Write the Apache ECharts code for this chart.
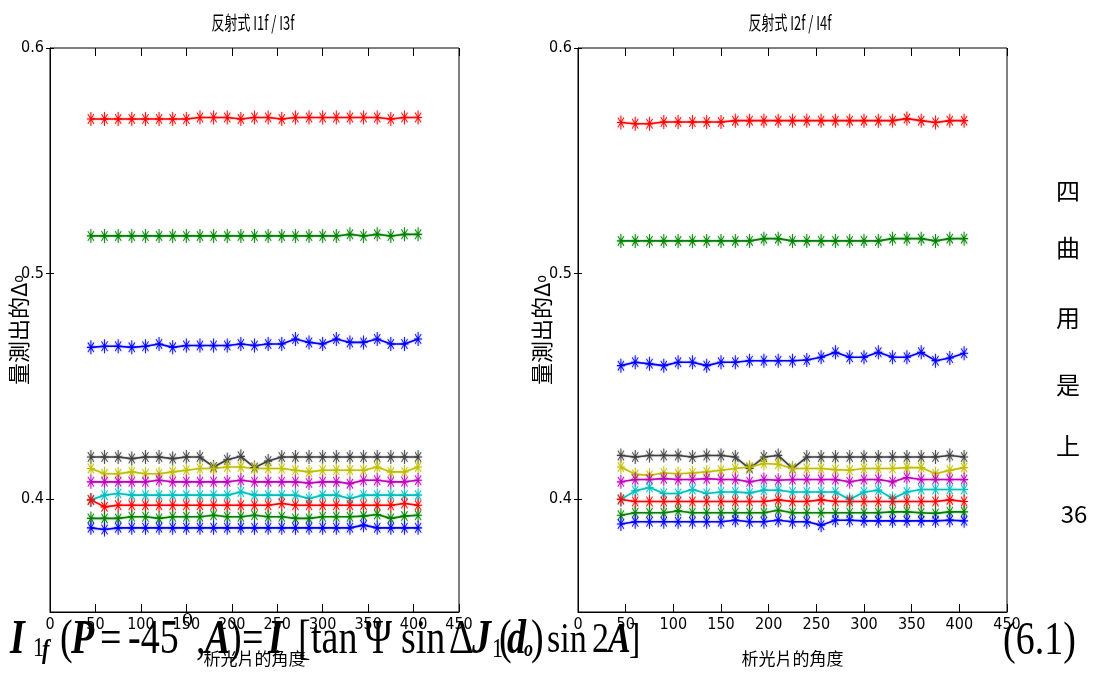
<!DOCTYPE html>
<html>
<head>
<meta charset="utf-8">
<script src="https://cdn.jsdelivr.net/npm/echarts@6/dist/echarts.min.js"></script>
<style>
html,body{margin:0;padding:0;background:#fff;}
#chart{width:1094px;height:673px;}
</style>
</head>
<body>
<div id="chart"></div>
<script>
// ---- data ----
const angles = [45,60,75,90,105,120,135,150,165,180,195,210,225,240,255,270,285,300,315,330,345,360,375,390,405];
const yTickValues = [0.4, 0.5, 0.6];
const leftTitle = '反射式 I1f / I3f';
const rightTitle = '反射式 I2f / I4f';
const xName = '析光片的角度';

// left panel (I1f / I3f)
const leftRedTop   = [0.5685,0.5685,0.5685,0.5685,0.5685,0.5685,0.5685,0.5685,0.5692,0.5692,0.5692,0.5685,0.5692,0.5692,0.5685,0.5692,0.5692,0.5692,0.5692,0.5692,0.5692,0.5692,0.5685,0.5692,0.5692];
const leftGreenTop = [0.5167,0.5167,0.5167,0.5167,0.5167,0.5167,0.5167,0.5167,0.5167,0.5167,0.5167,0.5167,0.5167,0.5167,0.5167,0.5167,0.5167,0.5167,0.5167,0.5174,0.5167,0.5174,0.5167,0.5174,0.5174];
const leftBlueTop  = [0.4673,0.4678,0.4678,0.4673,0.4678,0.4688,0.4673,0.4681,0.4681,0.4681,0.4681,0.4688,0.4681,0.4688,0.4688,0.4710,0.4695,0.4688,0.4710,0.4695,0.4695,0.4710,0.4688,0.4688,0.4710];
const leftGray     = [0.4187,0.4187,0.4187,0.4180,0.4187,0.4187,0.4180,0.4187,0.4187,0.4143,0.4175,0.4190,0.4140,0.4169,0.4187,0.4187,0.4187,0.4187,0.4187,0.4187,0.4187,0.4187,0.4187,0.4187,0.4187];
const leftYellow   = [0.4136,0.4113,0.4113,0.4121,0.4113,0.4113,0.4121,0.4128,0.4136,0.4136,0.4143,0.4143,0.4136,0.4136,0.4136,0.4128,0.4121,0.4128,0.4128,0.4128,0.4128,0.4143,0.4121,0.4121,0.4143];
const leftMagenta  = [0.4077,0.4077,0.4077,0.4077,0.4077,0.4084,0.4077,0.4077,0.4077,0.4077,0.4077,0.4084,0.4077,0.4077,0.4077,0.4077,0.4072,0.4077,0.4077,0.4069,0.4084,0.4084,0.4077,0.4077,0.4084];
const leftCyan     = [0.3997,0.4018,0.4025,0.4018,0.4018,0.4018,0.4018,0.4018,0.4018,0.4018,0.4018,0.4032,0.4018,0.4018,0.4018,0.4018,0.4003,0.4018,0.4018,0.4003,0.4018,0.4018,0.4018,0.4018,0.4018];
const leftRedLow   = [0.3997,0.3966,0.3973,0.3973,0.3973,0.3973,0.3973,0.3973,0.3973,0.3973,0.3973,0.3973,0.3973,0.3973,0.3981,0.3973,0.3973,0.3973,0.3973,0.3973,0.3973,0.3973,0.3973,0.3981,0.3973];
const leftGreenLow = [0.3915,0.3915,0.3915,0.3922,0.3922,0.3915,0.3922,0.3922,0.3922,0.3929,0.3922,0.3922,0.3929,0.3922,0.3922,0.3915,0.3915,0.3922,0.3922,0.3922,0.3925,0.3932,0.3915,0.3925,0.3929];
const leftBlueLow  = [0.3873,0.3866,0.3873,0.3873,0.3873,0.3873,0.3873,0.3873,0.3873,0.3873,0.3873,0.3873,0.3873,0.3873,0.3873,0.3873,0.3873,0.3873,0.3873,0.3873,0.3885,0.3873,0.3873,0.3873,0.3873];

// right panel (I2f / I4f)
const rightRedTop   = [0.5670,0.5664,0.5664,0.5672,0.5672,0.5672,0.5672,0.5672,0.5678,0.5678,0.5678,0.5678,0.5678,0.5678,0.5678,0.5678,0.5678,0.5678,0.5678,0.5678,0.5687,0.5678,0.5670,0.5678,0.5678];
const rightGreenTop = [0.5145,0.5145,0.5145,0.5145,0.5145,0.5145,0.5145,0.5145,0.5145,0.5145,0.5155,0.5155,0.5145,0.5145,0.5145,0.5145,0.5145,0.5145,0.5145,0.5155,0.5155,0.5155,0.5145,0.5155,0.5155];
const rightBlueTop  = [0.4592,0.4607,0.4600,0.4592,0.4607,0.4607,0.4592,0.4607,0.4607,0.4614,0.4614,0.4614,0.4614,0.4617,0.4629,0.4651,0.4629,0.4629,0.4651,0.4629,0.4629,0.4651,0.4614,0.4626,0.4647];
const rightGray     = [0.4194,0.4187,0.4194,0.4194,0.4194,0.4187,0.4194,0.4194,0.4187,0.4136,0.4187,0.4194,0.4136,0.4187,0.4187,0.4187,0.4187,0.4187,0.4187,0.4187,0.4187,0.4187,0.4187,0.4194,0.4187];
const rightYellow   = [0.4143,0.4110,0.4106,0.4116,0.4113,0.4116,0.4121,0.4128,0.4136,0.4143,0.4158,0.4155,0.4136,0.4136,0.4136,0.4131,0.4128,0.4136,0.4136,0.4136,0.4140,0.4140,0.4113,0.4128,0.4140];
const rightMagenta  = [0.4077,0.4087,0.4087,0.4091,0.4087,0.4087,0.4091,0.4087,0.4087,0.4077,0.4087,0.4084,0.4087,0.4087,0.4087,0.4087,0.4077,0.4087,0.4087,0.4077,0.4096,0.4087,0.4087,0.4087,0.4087];
const rightCyan     = [0.3999,0.4037,0.4052,0.4025,0.4025,0.4043,0.4025,0.4032,0.4032,0.4028,0.4040,0.4040,0.4032,0.4032,0.4032,0.4032,0.3999,0.4032,0.4040,0.4003,0.4032,0.4043,0.4043,0.4043,0.4043];
const rightRedLow   = [0.3999,0.3990,0.3990,0.3990,0.3990,0.3990,0.3990,0.3990,0.3990,0.3990,0.3990,0.3997,0.3990,0.3990,0.3997,0.3990,0.3990,0.3990,0.3990,0.3990,0.3990,0.3990,0.3990,0.3997,0.3990];
const rightGreenLow = [0.3929,0.3940,0.3940,0.3940,0.3948,0.3940,0.3940,0.3940,0.3940,0.3940,0.3940,0.3951,0.3940,0.3940,0.3940,0.3940,0.3940,0.3940,0.3940,0.3944,0.3944,0.3940,0.3937,0.3944,0.3944];
const rightBlueLow  = [0.3890,0.3900,0.3900,0.3900,0.3900,0.3900,0.3900,0.3900,0.3907,0.3900,0.3900,0.3907,0.3900,0.3900,0.3885,0.3907,0.3907,0.3904,0.3904,0.3904,0.3904,0.3904,0.3904,0.3907,0.3904];

const leftSeries  = [leftRedTop, leftGreenTop, leftBlueTop, leftGray, leftYellow, leftMagenta, leftCyan, leftRedLow, leftGreenLow, leftBlueLow];
const rightSeries = [rightRedTop, rightGreenTop, rightBlueTop, rightGray, rightYellow, rightMagenta, rightCyan, rightRedLow, rightGreenLow, rightBlueLow];
const seriesColors = ['#ff0000','#008000','#0000ff','#404040','#bfbf00','#bf00bf','#00bfbf','#ff0000','#008000','#0000ff'];
const haloColors   = ['rgba(255,0,0,0.45)','rgba(0,128,0,0.45)','rgba(0,0,255,0.45)','rgba(64,64,64,0.45)','rgba(191,191,0,0.45)','rgba(191,0,191,0.45)','rgba(0,191,191,0.45)','rgba(255,0,0,0.45)','rgba(0,128,0,0.45)','rgba(0,0,255,0.45)'];

// ---- chart ----
const ASTERISK = 'path://M9 0h2v20h-2zM1 9.2h18v1.6h-18zM2.5 3.6L3.6 2.5L17.5 16.4L16.4 17.5zM16.4 2.5L17.5 3.6L3.6 17.5L2.5 16.4z';
const tickFont = '"Liberation Sans Narrow","DejaVu Sans Condensed","Liberation Sans",sans-serif';
const cjkFont = '"Noto Sans CJK TC","Noto Sans CJK SC",sans-serif';
const serif = '"Liberation Serif","Times New Roman",serif';

const chart = echarts.init(document.getElementById('chart'), null, {renderer:'canvas'});

function makeSeries(values, idx, axisIdx) {
  return {
    type: 'line',
    xAxisIndex: axisIdx,
    yAxisIndex: axisIdx,
    data: angles.map((a, i) => [a, values[i]]),
    symbol: ASTERISK,
    symbolSize: [8, 14],
    showAllSymbol: true,
    lineStyle: {color: seriesColors[idx], width: 1.6, shadowBlur: 2, shadowColor: haloColors[idx]},
    itemStyle: {color: seriesColors[idx], shadowBlur: 2, shadowColor: haloColors[idx]},
    emphasis: {disabled: true},
    silent: true,
    z: 3
  };
}

function bottomX(gridIndex) {
  return {
    gridIndex, type: 'value', position: 'bottom', min: 0, max: 450, interval: 50,
    axisLine: {show: true, onZero: false, lineStyle: {color: '#000', width: 1}},
    axisTick: {show: true, inside: true, length: 8, lineStyle: {color: '#000'}},
    axisLabel: {show: true, margin: 5, color: '#000', fontFamily: tickFont, fontSize: 16},
    splitLine: {show: false},
    name: xName, nameLocation: 'middle', nameGap: 38, nameMoveOverlap: false,
    nameTextStyle: {fontFamily: cjkFont, fontSize: 17, color: '#000'}
  };
}
function topX(gridIndex) {
  return {
    gridIndex, type: 'value', position: 'top', min: 0, max: 450, interval: 50,
    axisLine: {show: false},
    axisTick: {show: true, inside: true, length: 8, lineStyle: {color: '#000'}},
    axisLabel: {show: false}, splitLine: {show: false}
  };
}
function leftY(gridIndex, gap) {
  return {
    gridIndex, type: 'value', position: 'left', min: 0.35, max: 0.6,
    axisLine: {show: true, onZero: false, lineStyle: {color: '#000', width: 1}},
    axisTick: {show: true, inside: true, length: 4, customValues: yTickValues, lineStyle: {color: '#000'}},
    axisLabel: {show: true, margin: 6, color: '#000', fontFamily: tickFont, fontSize: 16,
      customValues: yTickValues, formatter: v => v.toFixed(1)},
    splitLine: {show: false},
    name: '{m|量測出的Δ}{s|o}', nameLocation: 'middle', nameGap: gap, nameRotate: 90, nameMoveOverlap: false,
    nameTextStyle: {color: '#000', fontFamily: cjkFont, fontSize: 22,
      rich: {m: {fontFamily: cjkFont, fontSize: 22, color: '#000'}, s: {fontFamily: tickFont, fontSize: 14, color: '#000'}}}
  };
}
function rightY(gridIndex) {
  return {
    gridIndex, type: 'value', position: 'right', min: 0.35, max: 0.6,
    axisLine: {show: false},
    axisTick: {show: true, inside: true, length: 4, customValues: yTickValues, lineStyle: {color: '#000'}},
    axisLabel: {show: false}, splitLine: {show: false}
  };
}

const vertChars = ['四','曲','用','是','上'];
const vertY = [191, 248, 318, 385, 446];

const graphics = [
  {type:'text', x:253, y:23, scaleX:0.68, style:{text:leftTitle, font:'19px ' + cjkFont, fill:'#000', align:'center', verticalAlign:'middle'}},
  {type:'text', x:790, y:23, scaleX:0.68, style:{text:rightTitle, font:'19px ' + cjkFont, fill:'#000', align:'center', verticalAlign:'middle'}},
  {type:'text', x:1003, y:642, scaleY:1.2, style:{text:'(6.1)', font:'38px ' + serif, fill:'#000', verticalAlign:'middle'}},
  {type:'text', x:1074, y:514, style:{text:'36', font:'24px ' + cjkFont, fill:'#000', align:'center', verticalAlign:'middle'}}
];
vertChars.forEach((c, i) => graphics.push({type:'text', x:1068, y:vertY[i], style:{text:c, font:'24px ' + cjkFont, fill:'#000', align:'center', verticalAlign:'middle'}}));

// equation pieces: [text, x, y, size, bold-italic]
const eqPieces = [
  ['I', 10, 641, 38, true], ['1', 33, 649, 22, false], ['f', 42, 651, 22, true],
  ['(', 60, 641, 38, false], ['P', 71, 641, 38, true], ['=', 100, 641, 38, false],
  ['-45', 128, 641, 38, false], ['o', 182, 619, 22, false], [',', 196, 641, 38, false],
  ['A', 205, 641, 38, true], [')', 229, 641, 38, false], ['=', 242, 641, 38, false],
  ['I', 268, 641, 38, true], ['[', 298, 641, 38, false], ['tan', 311, 641, 38, false],
  ['Ψ', 364, 641, 38, false], ['sin', 401, 641, 38, false], ['Δ', 449, 641, 38, false],
  ['J', 472, 641, 38, true], ['1', 492, 650, 22, false], ['(', 499, 641, 38, false],
  ['d', 507, 641, 38, true], ['o', 524, 650, 18, true], [')', 531, 641, 38, false],
  ['sin', 547, 641, 34, false], ['2', 592, 641, 34, false], ['A', 608, 641, 34, true],
  [']', 629, 641, 34, false]
];
eqPieces.forEach(p => graphics.push({
  type:'text', x:p[1], y:p[2], scaleY:1.25, z:10,
  style:{text:p[0], font:(p[4] ? 'italic bold ' : '') + p[3] + 'px ' + serif, fill:'#000', verticalAlign:'middle'}
}));

const option = {
  backgroundColor: '#fff',
  animation: false,
  grid: [
    {left: 50, top: 48, width: 409, height: 564, show: true, borderColor: '#000', borderWidth: 1, backgroundColor: 'transparent', outerBoundsMode: 'none', containLabel: false},
    {left: 578, top: 48, width: 429, height: 564, show: true, borderColor: '#000', borderWidth: 1, backgroundColor: 'transparent', outerBoundsMode: 'none', containLabel: false}
  ],
  xAxis: [bottomX(0), topX(0), bottomX(1), topX(1)],
  yAxis: [leftY(0, 20), rightY(0), leftY(1, 25), rightY(1)],
  series: [
    ...leftSeries.map((v, i) => makeSeries(v, i, 0)),
    ...rightSeries.map((v, i) => makeSeries(v, i, 2))
  ],
  graphic: graphics
};
chart.setOption(option);
</script>
</body>
</html>
